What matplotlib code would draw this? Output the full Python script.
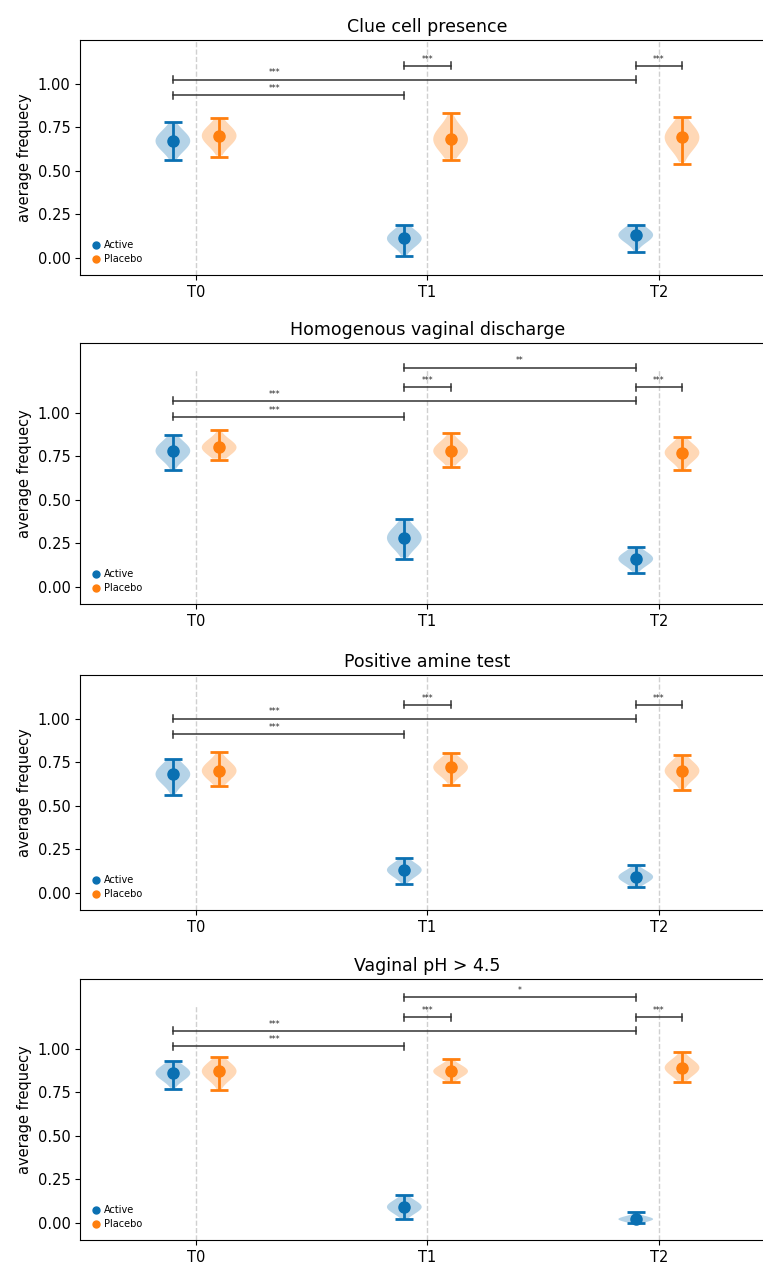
import numpy as np
import matplotlib
matplotlib.use("Agg")
import matplotlib.pyplot as plt
from matplotlib.lines import Line2D

# ---------------- data ----------------
titles = ["Clue cell presence", "Homogenous vaginal discharge",
          "Positive amine test", "Vaginal pH > 4.5"]
timepoints = ["T0", "T1", "T2"]
groups = ["Active", "Placebo"]

# mean, lower CI, upper CI per panel -> per timepoint
active_mean = [[0.67, 0.11, 0.13], [0.78, 0.28, 0.16], [0.68, 0.13, 0.09], [0.86, 0.09, 0.02]]
active_lo = [[0.56, 0.01, 0.03], [0.67, 0.16, 0.08], [0.56, 0.05, 0.03], [0.77, 0.02, 0.00]]
active_hi = [[0.78, 0.19, 0.19], [0.87, 0.39, 0.23], [0.77, 0.20, 0.16], [0.93, 0.16, 0.06]]
placebo_mean = [[0.70, 0.68, 0.69], [0.80, 0.78, 0.77], [0.70, 0.72, 0.70], [0.87, 0.87, 0.89]]
placebo_lo = [[0.58, 0.56, 0.54], [0.73, 0.69, 0.67], [0.61, 0.62, 0.59], [0.76, 0.81, 0.81]]
placebo_hi = [[0.80, 0.83, 0.81], [0.90, 0.88, 0.86], [0.81, 0.80, 0.79], [0.95, 0.94, 0.98]]

# significance labels
sig_t0_t1 = ["***", "***", "***", "***"]
sig_t0_t2 = ["***", "***", "***", "***"]
sig_t1_group = ["***", "***", "***", "***"]
sig_t2_group = ["***", "***", "***", "***"]
sig_t1_t2 = [None, "**", None, "*"]

# ---------------- style ----------------
c_active = "#0a70b2"
c_placebo = "#ff7f0e"
bracket_base = [0.933, 0.977, 0.91, 1.013]
level_off = [0.0, 0.09, 0.168, 0.282]
ytops = [1.25, 1.40, 1.25, 1.40]

W, H = 763, 1263
fig = plt.figure(figsize=(W / 100, H / 100), dpi=100)

panel_px = [(40, 275), (343, 604), (675, 910), (979, 1240)]
left_px, right_px = 80.3, 774.6

def violin(ax, pos, mean, lo, hi, color):
    r = hi - lo
    coords = np.linspace(lo + 0.03 * r, hi - 0.03 * r, 100)
    s = r / 3.6
    vals = np.exp(-0.5 * ((coords - mean) / s) ** 2)
    stats = [dict(coords=coords, vals=vals, mean=mean, median=mean,
                  min=lo, max=hi)]
    parts = ax.violin(stats, positions=[pos], widths=0.15,
                      showmeans=False, showextrema=False, showmedians=False)
    for b in parts["bodies"]:
        b.set_facecolor(color)
        b.set_edgecolor("none")
        b.set_alpha(0.3)

def bracket(ax, x1, x2, y, label, tx=None):
    col = "#333333"
    ax.plot([x1, x2], [y, y], color=col, lw=1.1, zorder=3)
    for xx in (x1, x2):
        ax.plot([xx, xx], [y - 0.02, y + 0.02], color=col, lw=1.1, zorder=3)
    if tx is None:
        tx = (x1 + x2) / 2
    ax.text(tx, y + 0.012, label, ha="center", va="bottom", fontsize=5.5,
            color="#222222")

x = np.arange(len(timepoints))
for i in range(4):
    top, bot = panel_px[i]
    ax = fig.add_axes([left_px / W, 1 - bot / H, (right_px - left_px) / W,
                       (bot - top) / H])
    ax.set_xlim(-0.5, 2.5)
    ax.set_ylim(-0.1, ytops[i])
    ax.vlines(x, -0.1, 1.25, colors="#d0d0d0", linestyles="--", lw=1, zorder=0)

    for j in range(3):
        violin(ax, x[j] - 0.1, active_mean[i][j], active_lo[i][j], active_hi[i][j], c_active)
        violin(ax, x[j] + 0.1, placebo_mean[i][j], placebo_lo[i][j], placebo_hi[i][j], c_placebo)
    am = np.array(active_mean[i]); al = np.array(active_lo[i]); ah = np.array(active_hi[i])
    pm = np.array(placebo_mean[i]); pl = np.array(placebo_lo[i]); ph = np.array(placebo_hi[i])
    ax.errorbar(x - 0.1, am, yerr=[am - al, ah - am], fmt="o", color=c_active,
                ms=8, elinewidth=2, capsize=6.3, capthick=2, zorder=4)
    ax.errorbar(x + 0.1, pm, yerr=[pm - pl, ph - pm], fmt="o", color=c_placebo,
                ms=8, elinewidth=2, capsize=6.3, capthick=2, zorder=4)

    b = bracket_base[i]
    bracket(ax, x[0] - 0.1, x[1] - 0.1, b + level_off[0], sig_t0_t1[i], tx=0.34)
    bracket(ax, x[0] - 0.1, x[2] - 0.1, b + level_off[1], sig_t0_t2[i], tx=0.34)
    bracket(ax, x[1] - 0.1, x[1] + 0.1, b + level_off[2], sig_t1_group[i])
    bracket(ax, x[2] - 0.1, x[2] + 0.1, b + level_off[2], sig_t2_group[i])
    if sig_t1_t2[i]:
        bracket(ax, x[1] - 0.1, x[2] - 0.1, b + level_off[3], sig_t1_t2[i])

    ax.set_xticks(x)
    ax.set_xticklabels(timepoints, fontsize=10.5)
    ax.set_yticks([0, 0.25, 0.5, 0.75, 1.0])
    ax.set_yticklabels(["0.00", "0.25", "0.50", "0.75", "1.00"], fontsize=10.5)
    ax.set_ylabel("average frequecy", fontsize=10.5)
    ax.set_title(titles[i], fontsize=12.5)

    handles = [Line2D([], [], marker="o", ls="none", color=c_active, ms=5),
               Line2D([], [], marker="o", ls="none", color=c_placebo, ms=5)]
    ax.legend(handles, groups, loc="lower left", frameon=False, fontsize=7,
              handletextpad=0.3, borderaxespad=0.7, labelspacing=0.4,
              handlelength=1.0)

fig.savefig("out.png", dpi=100)
